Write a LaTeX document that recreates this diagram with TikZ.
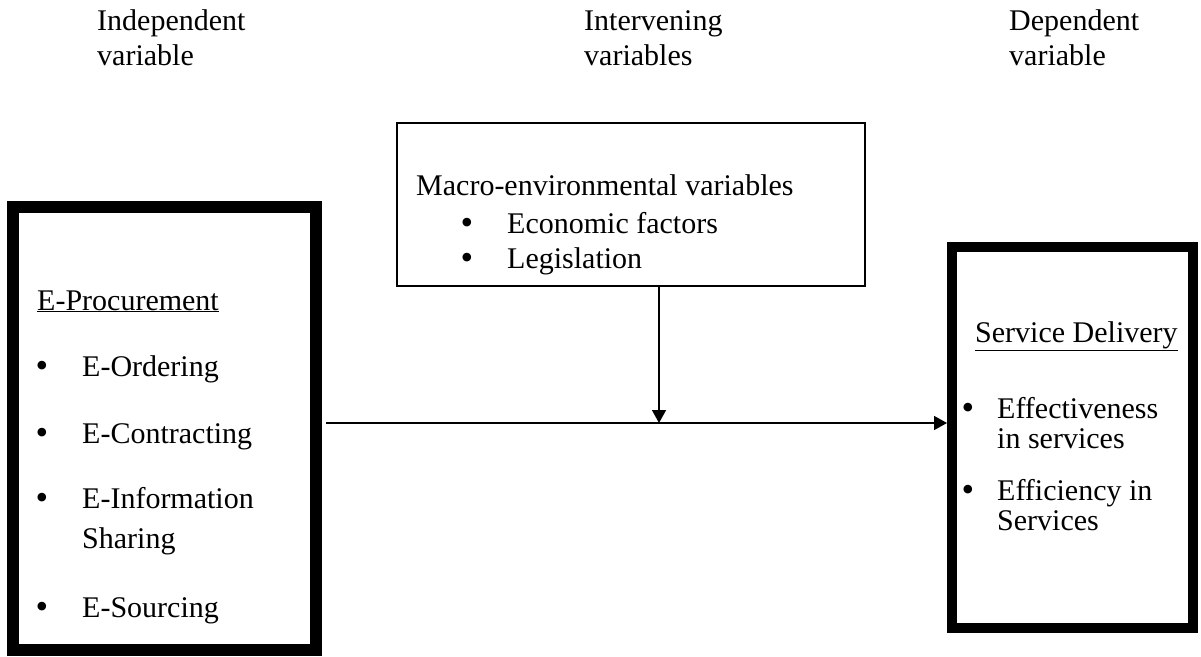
\documentclass[tikz,border=0pt]{standalone}
\usepackage{fontspec}
\setmainfont{Liberation Serif}
\usetikzlibrary{arrows.meta}

\begin{document}
\begin{tikzpicture}[x=1pt,y=-1pt,
        txt/.style={anchor=base west,inner sep=0pt,font=\fontsize{30}{40}\selectfont},
        blt/.style={anchor=base,inner sep=0pt,font=\fontsize{36}{36}\selectfont},
        arr/.style={line width=1.5pt,-{Triangle[length=13pt,width=14pt]}}]
            \useasboundingbox (0,0) rectangle (1201,656);

            % column headings
            \node[txt] (indep1) at (97,30) {Independent};
            \node[txt] (indep2) at (97,65) {variable};
            \node[txt] (interv1) at (584,30) {Intervening};
            \node[txt] (interv2) at (584,65) {variables};
            \node[txt] (dep1) at (1009,30) {Dependent};
            \node[txt] (dep2) at (1009,65) {variable};

            % boxes
            \node[draw,line width=12pt,minimum width=303pt,minimum height=443pt] (proc) at (164.5,428.5) {};
            \node[draw,line width=2pt,minimum width=468pt,minimum height=163pt] (macro) at (631,204.5) {};
            \node[draw,line width=10pt,minimum width=241pt,minimum height=381pt] (serv) at (1072.5,437.5) {};

            % independent variable
            \node[txt] (proctitle) at (37,310) {\underline{E-Procurement}};
            \foreach \y/\t in {376/E-Ordering,443/E-Contracting,508/E-Information,617/E-Sourcing} {
                \node[blt] (pb-\y) at (42,\y+1) {•};
                \node[txt] (pt-\y) at (82,\y) {\t};
            }
            \node[txt] (pt-548) at (82,548) {Sharing};

            % intervening variables
            \node[txt] (macrotitle) at (416,195) {Macro-environmental variables};
            \foreach \y/\t in {233/Economic factors,268/Legislation} {
                \node[blt] (mb-\y) at (467,\y+1) {•};
                \node[txt] (mt-\y) at (507,\y) {\t};
            }

            % dependent variable
            \node[txt] (servtitle) at (975,342) {\underline{Service Delivery}};
            \node[blt] (sb-418) at (968,419) {•};
            \node[txt] (st-418) at (997,418) {Effectiveness};
            \node[txt] (st-446) at (997,448) {in services};
            \node[blt] (sb-500) at (968,501) {•};
            \node[txt] (st-500) at (997,500) {Efficiency in};
            \node[txt] (st-528) at (997,530) {Services};

            % connectors
            \coordinate (joint) at (659,423);
            \draw[arr] (macro.south -| joint) -- (joint);
            \draw[arr,shorten <=4pt] (proc.east |- joint) -- (serv.west |- joint);
        \end{tikzpicture}
\end{document}
